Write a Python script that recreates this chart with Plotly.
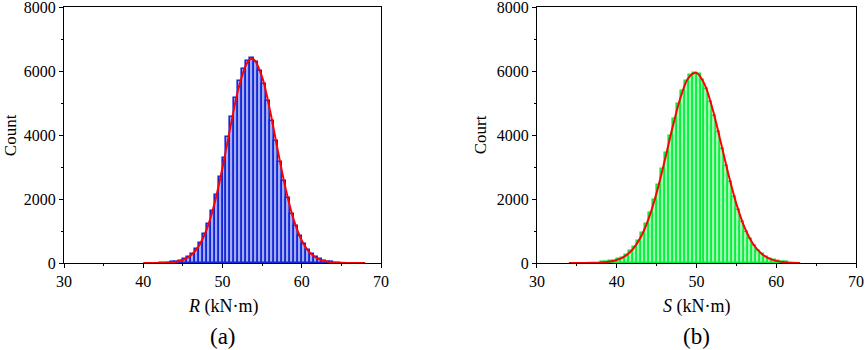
import plotly.graph_objects as go
from plotly.subplots import make_subplots

# ---- data ----
r_bins = [42.25, 42.75, 43.25, 43.75, 44.25, 44.75, 45.25, 45.75, 46.25, 46.75,
          47.25, 47.75, 48.25, 48.75, 49.25, 49.75, 50.25, 50.75, 51.25, 51.75,
          52.25, 52.75, 53.25, 53.75, 54.25, 54.75, 55.25, 55.75, 56.25, 56.75,
          57.25, 57.75, 58.25, 58.75, 59.25, 59.75, 60.25, 60.75, 61.25, 61.75,
          62.25, 62.75, 63.25, 63.75, 64.25, 64.75]
r_counts = [4, 8, 15, 26, 45, 75, 121, 191, 292, 436,
            632, 892, 1225, 1636, 2124, 2682, 3294, 3935, 4571, 5165,
            5677, 6068, 6309, 6400, 6274, 6001, 5582, 5052, 4446, 3805,
            3168, 2565, 2020, 1547, 1153, 835, 588, 403, 269, 174,
            110, 67, 40, 23, 13, 7]
r_fit_x = [40, 41, 42, 43, 44, 45, 46, 47, 48, 49, 50, 51, 52, 53, 53.5, 54,
           55, 56, 57, 58, 59, 60, 61, 62, 63, 64, 65, 66, 67, 68]
r_fit_y = [0.2, 0.8, 3, 11, 34, 95, 237, 527, 1049, 1870, 2982, 4255, 5434, 6209, 6366, 6348,
           5808, 4756, 3484, 2284, 1340, 704, 330, 139, 52, 18, 5, 1.5, 0.4, 0.1]

s_bins = [38.25, 38.75, 39.25, 39.75, 40.25, 40.75, 41.25, 41.75, 42.25, 42.75,
          43.25, 43.75, 44.25, 44.75, 45.25, 45.75, 46.25, 46.75, 47.25, 47.75,
          48.25, 48.75, 49.25, 49.75, 50.25, 50.75, 51.25, 51.75, 52.25, 52.75,
          53.25, 53.75, 54.25, 54.75, 55.25, 55.75, 56.25, 56.75, 57.25, 57.75,
          58.25, 58.75, 59.25, 59.75, 60.25, 60.75, 61.25]
s_counts = [19, 30, 48, 75, 115, 172, 252, 361, 506, 693,
            930, 1221, 1570, 1975, 2431, 2927, 3450, 3979, 4491, 4961,
            5363, 5673, 5873, 5950, 5898, 5722, 5433, 5047, 4589, 4083,
            3556, 3030, 2526, 2061, 1646, 1287, 984, 737, 539, 387,
            271, 186, 125, 82, 53, 33, 20]
s_fit_x = [34, 35, 36, 37, 38, 39, 40, 41, 42, 43, 44, 45, 46, 47, 48, 49, 50,
           51, 52, 53, 54, 55, 56, 57, 58, 59, 60, 61, 62, 63]
s_fit_y = [0.1, 0.5, 1.6, 5, 14, 38, 93, 209, 428, 805, 1389, 2197, 3186, 4239, 5172, 5788, 5940,
           5591, 4826, 3821, 2775, 1848, 1128, 632, 325, 153, 66, 26, 9.5, 3]

x_ticks = [30, 40, 50, 60, 70]
y_ticks = [0, 2000, 4000, 6000, 8000]

FONT = "Liberation Serif, Times New Roman, serif"

fig = make_subplots(rows=1, cols=2, horizontal_spacing=0.197)

fig.add_trace(go.Bar(x=r_bins, y=r_counts, width=0.5,
                     marker=dict(color="#aab4ff", line=dict(color="#1226d6", width=1.6),
                                 pattern=dict(shape=".", fgcolor="#2a3ef0", bgcolor="#c4cbff",
                                              size=2, solidity=0.5))),
              row=1, col=1)
fig.add_trace(go.Scatter(x=r_fit_x, y=r_fit_y, mode="lines",
                         line=dict(color="#ff0000", width=2, shape="spline")), row=1, col=1)
fig.add_trace(go.Bar(x=s_bins, y=s_counts, width=0.5,
                     marker=dict(color="#aaffbb", line=dict(color="#08ee3c", width=1.6),
                                 pattern=dict(shape=".", fgcolor="#18f048", bgcolor="#c0ffcc",
                                              size=2, solidity=0.5))),
              row=1, col=2)
fig.add_trace(go.Scatter(x=s_fit_x, y=s_fit_y, mode="lines",
                         line=dict(color="#ff0000", width=2, shape="spline")), row=1, col=2)

axis_common = dict(showline=True, linecolor="black", linewidth=1, mirror=True,
                   ticks="outside", ticklen=4, tickcolor="black", showgrid=False, zeroline=False,
                   automargin=False, ticklabeloverflow="allow",
                   tickfont=dict(family=FONT, size=16, color="black"),
                   minor=dict(ticks="outside", ticklen=2, tickcolor="black"))

for c in (1, 2):
    fig.update_xaxes(range=[30, 70], tickvals=x_ticks, **axis_common,
                     minor_dtick=5, row=1, col=c)
    fig.update_yaxes(range=[0, 8000], tickvals=y_ticks, **axis_common,
                     minor_dtick=1000, row=1, col=c)

fig.update_xaxes(domain=[0, 0.4003], row=1, col=1)
fig.update_xaxes(domain=[0.5972, 1], row=1, col=2)

ann = [
    dict(x=0.2002, y=-0.168, text="<i>R</i> (kN·m)", font=dict(size=18)),
    dict(x=0.7986, y=-0.168, text="<i>S</i> (kN·m)", font=dict(size=18)),
    dict(x=0.2002, y=-0.287, text="(a)", font=dict(size=23)),
    dict(x=0.7986, y=-0.287, text="(b)", font=dict(size=23)),
    dict(x=-0.068, y=0.5, text="Count", textangle=-90, font=dict(size=17)),
    dict(x=0.5256, y=0.5, text="Court", textangle=-90, font=dict(size=17)),
]
for a in ann:
    a.update(xref="paper", yref="paper", showarrow=False, xanchor="center", yanchor="middle")
    a["font"].update(family=FONT, color="black")
fig.update_layout(annotations=ann)

fig.update_layout(width=865, height=350,
                  margin=dict(l=64, r=9, t=7, b=87, autoexpand=False),
                  paper_bgcolor="white", plot_bgcolor="white", showlegend=False,
                  bargap=0, font=dict(family=FONT, color="black"))

fig.write_html("out.html", config={"displayModeBar": False},
               post_script="document.body.style.margin='0';document.body.style.overflow='hidden';")
